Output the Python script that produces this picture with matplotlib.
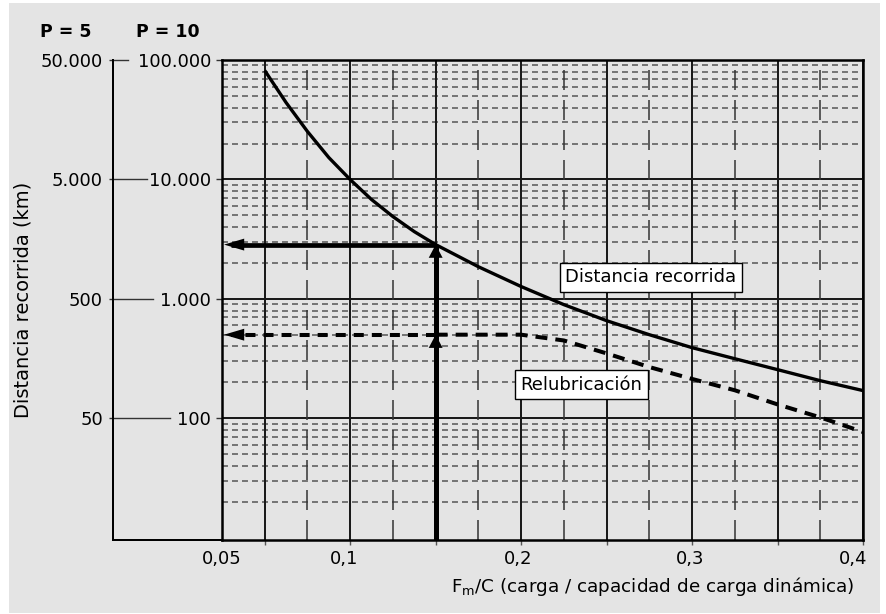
import matplotlib
matplotlib.use("Agg")
import matplotlib.pyplot as plt
from matplotlib.patches import Rectangle
from matplotlib.ticker import NullLocator
from matplotlib.transforms import blended_transform_factory

plt.rcParams['font.family'] = ['DejaVu Sans']
plt.rcParams['lines.scale_dashes'] = False

# distancia recorrida, escala P = 10 (km)
x_dist = [0.05, 0.0625, 0.075, 0.0875, 0.1, 0.1125, 0.125, 0.1375, 0.15,
          0.175, 0.2, 0.225, 0.25, 0.275, 0.3, 0.325, 0.35, 0.375, 0.4]
dist_p10 = [81700, 44000, 25200, 15250, 9980, 6790, 4890, 3660, 2850,
            1860, 1270, 896, 658, 502, 391, 316, 256, 207, 171]

# relubricacion, escala P = 10 (km)
x_relub = [0.15, 0.175, 0.2, 0.225, 0.25, 0.275, 0.3, 0.325, 0.35, 0.375, 0.4]
relub_p10 = [502, 502, 502, 449, 350, 269, 214, 172, 131, 102, 77]

# ejemplo de lectura
x_sel = 0.15
y_sel_dist = 2850
y_sel_relub = 502

# ejes
x_grid = [0.05, 0.1, 0.15, 0.2, 0.25, 0.3, 0.35, 0.4]
x_mid = [0.075, 0.125, 0.175, 0.225, 0.275, 0.325, 0.375]
x_label_pos = [0.025, 0.0965, 0.198, 0.299, 0.394]
x_tick_labels = ['0,05', '0,1', '0,2', '0,3', '0,4']
y_p10 = [100, 1000, 10000, 100000]
y_p10_labels = ['100', '1.000', '10.000', '100.000']
y_p5 = [50, 500, 5000, 50000]
y_p5_labels = ['50', '500', '5.000', '50.000']
decades = [10, 100, 1000, 10000]

W, H = 886, 614
fs = 13
fig = plt.figure(figsize=(W / 100, H / 100), dpi=100, facecolor='white')
fig.add_artist(Rectangle((9 / W, 1 / H), 871 / W, 610 / H, transform=fig.transFigure,
                         fc='#e4e4e4', ec='none', zorder=-10))

ax = fig.add_axes([222 / W, 1 - 540 / H, 641 / W, 480 / H])
ax.patch.set_visible(False)
ax.set_yscale('log')
ax.set_xlim(0.025, 0.4)
ax.set_ylim(9.6, 1e5)

# rejilla
for d in decades:
    for k in range(2, 10):
        ax.axhline(k * d, color='#555555', lw=1.1, dashes=(4.3, 2.9), zorder=1)
for y in y_p10[:-1]:
    ax.axhline(y, color='#1a1a1a', lw=1.44, zorder=2)
for x in x_mid:
    ax.axvline(x, color='#333333', lw=1.1, dashes=(14.4, 7.2), zorder=2)
for x in x_grid:
    ax.axvline(x, color='#1a1a1a', lw=1.44, zorder=2)

# curvas
ax.plot(x_dist, dist_p10, color='black', lw=2.4, zorder=5, solid_capstyle='butt')
ax.plot(x_relub, relub_p10, color='black', lw=2.9, dashes=(8.6, 5.8), zorder=5)

# flechas de lectura
ax.plot([x_sel, x_sel], [9.6, y_sel_dist], color='black', lw=3.6, zorder=6,
        solid_capstyle='butt')
ax.plot([x_sel, 0.03], [y_sel_dist, y_sel_dist], color='black', lw=3.4, zorder=6,
        solid_capstyle='butt')
ax.plot([x_sel, 0.03], [y_sel_relub, y_sel_relub], color='black', lw=2.9,
        dashes=(7.2, 5.8), zorder=6)

vhead = dict(arrowstyle='-|>,head_length=0.95,head_width=0.5', mutation_scale=10,
             lw=0, fc='black', ec='black', shrinkA=0, shrinkB=0)
hhead = dict(arrowstyle='-|>,head_length=1.45,head_width=0.43', mutation_scale=10,
             lw=0, fc='black', ec='black', shrinkA=0, shrinkB=0)
for yt, yf in [(y_sel_dist, 1500), (y_sel_relub, 250)]:
    ax.annotate('', xy=(x_sel, yt), xytext=(x_sel, yf), arrowprops=vhead, zorder=7)
    ax.annotate('', xy=(0.0262, yt), xytext=(0.06, yt), arrowprops=hhead, zorder=7)

# etiquetas de curvas
box = dict(boxstyle='square,pad=0.3', fc='white', ec='black', lw=1)
ax.text(0.276, 1523, 'Distancia recorrida', fontsize=fs, ha='center', va='center',
        bbox=box, zorder=8)
ax.text(0.2353, 191, 'Relubricación', fontsize=fs, ha='center', va='center',
        bbox=box, zorder=8)

# eje x
for s in ax.spines.values():
    s.set_linewidth(1.8)
    s.set_zorder(9)
ax.set_xticks(x_label_pos, x_tick_labels)
ax.set_xticks(x_grid, minor=True)
ax.tick_params(axis='x', which='major', length=0, pad=7, labelsize=fs)
ax.tick_params(axis='x', which='minor', length=3.6, width=1, color='#555555')
ax.set_xlabel(r'F$_\mathregular{m}$/C (carga / capacidad de carga dinámica)',
              fontsize=13.2, ha='right')
ax.xaxis.set_label_coords(0.9875, -0.072)

# eje y, P = 10
ax.set_yticks(y_p10, y_p10_labels)
ax.yaxis.set_minor_locator(NullLocator())
ax.tick_params(axis='y', length=4.3, width=1, pad=3.6, labelsize=fs, color='#333333')

# eje y, P = 5
ax2 = ax.twinx()
ax2.set_yscale('log')
ax2.set_ylim(9.6 / 2, 1e5 / 2)
ax2.yaxis.tick_left()
ax2.yaxis.set_label_position('left')
ax2.set_yticks(y_p5, y_p5_labels)
ax2.yaxis.set_minor_locator(NullLocator())
for k in ['right', 'top', 'bottom']:
    ax2.spines[k].set_visible(False)
ax2.spines['left'].set_visible(True)
ax2.spines['left'].set_position(('outward', 109 * 0.72))
ax2.spines['left'].set_linewidth(1.44)
ax2.tick_params(axis='y', length=2.9, width=1, pad=4.3, labelsize=fs, color='#333333')
ax2.set_ylabel('Distancia recorrida (km)', fontsize=14, labelpad=6)

tr = blended_transform_factory(ax.transAxes, ax.transData)
x0 = (113 - 222) / 641
ax.plot([x0, 0], [9.6, 9.6], transform=tr, color='black', lw=1.44, clip_on=False)
for y, xe in zip(y_p10, [170, 153, 147, 128]):
    ax.plot([x0, (xe - 222) / 641], [y, y], transform=tr, color='#333333', lw=1,
            clip_on=False)

fig.text(66 / W, 1 - 32 / H, 'P = 5', fontsize=12.5, fontweight='bold',
         ha='center', va='center')
fig.text(168 / W, 1 - 32 / H, 'P = 10', fontsize=12.5, fontweight='bold',
         ha='center', va='center')

fig.savefig('out.png', dpi=100)
